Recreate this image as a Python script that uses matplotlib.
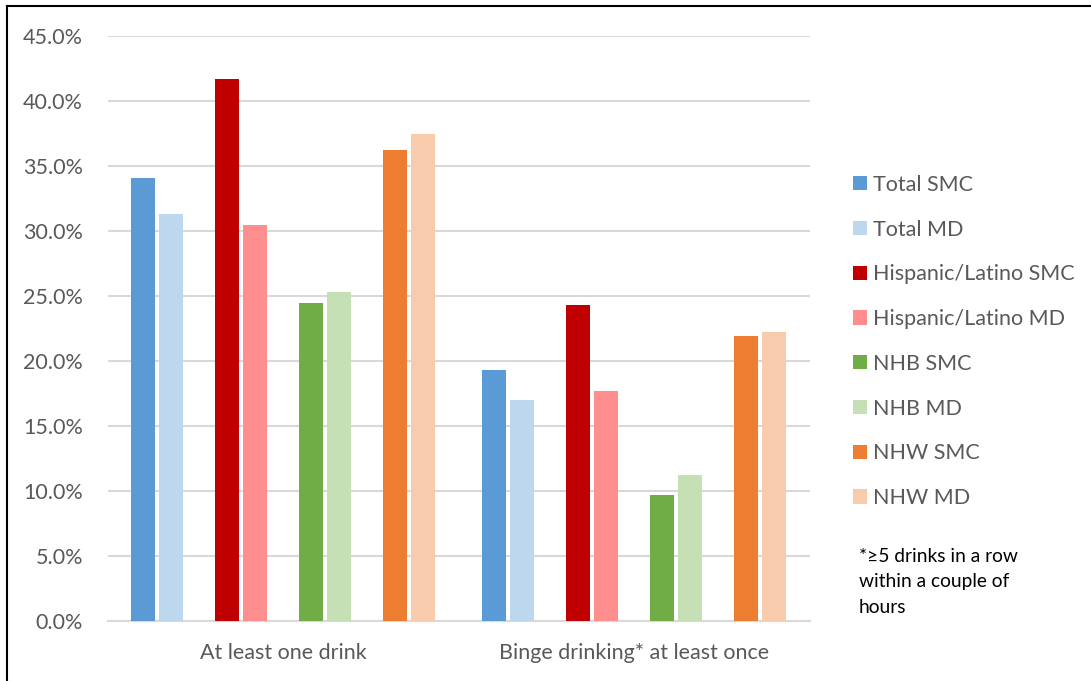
import numpy as np
import matplotlib.pyplot as plt
from matplotlib.patches import Patch
from matplotlib.lines import Line2D

plt.rcParams['font.family'] = ['Lato', 'DejaVu Sans']

categories = ['At least one drink', 'Binge drinking* at least once']
series = ['Total SMC', 'Total MD', 'Hispanic/Latino SMC', 'Hispanic/Latino MD',
          'NHB SMC', 'NHB MD', 'NHW SMC', 'NHW MD']
values = [
    [34.1, 19.3],   # Total SMC
    [31.3, 17.0],   # Total MD
    [41.7, 24.3],   # Hispanic/Latino SMC
    [30.5, 17.7],   # Hispanic/Latino MD
    [24.5, 9.7],    # NHB SMC
    [25.3, 11.2],   # NHB MD
    [36.2, 21.9],   # NHW SMC
    [37.5, 22.2],   # NHW MD
]
colors = ['#5B9BD5', '#BDD7EE', '#C00000', '#FF8F8F',
          '#70AD47', '#C5E0B4', '#ED7D31', '#F8CBAD']
yticks = [0, 5, 10, 15, 20, 25, 30, 35, 40, 45]
note = '*\u22655 drinks in a row\nwithin a couple of\nhours'

W, H = 1091, 681
fig = plt.figure(figsize=(W / 100, H / 100), dpi=100)
ax = fig.add_axes([108 / W, 60 / H, 702 / W, 585 / H])

grey = '#595959'
slot = 28 / 351.3
width = 24 / 351.3
x = np.arange(len(categories))
for i, (name, vals) in enumerate(zip(series, values)):
    s = 3 * (i // 2) + (i % 2)
    ax.bar(x + (s - 5) * slot, vals, width, color=colors[i], label=name, zorder=3)

ax.set_xlim(-0.498, 1.5)
ax.set_ylim(0, 45)
ax.set_yticks(yticks)
ax.set_yticklabels(['%.1f%%' % v for v in yticks])
ax.set_xticks(x)
ax.set_xticklabels(categories)
ax.tick_params(axis='both', length=0, labelsize=15.5, labelcolor=grey)
ax.tick_params(axis='y', pad=18)
ax.tick_params(axis='x', pad=16)
ax.grid(axis='y', color='#D9D9D9', linewidth=1.5, zorder=0)
for sp in ['top', 'right', 'left']:
    ax.spines[sp].set_visible(False)
ax.spines['bottom'].set_color('#D9D9D9')
ax.spines['bottom'].set_linewidth(1.5)

handles = [Patch(facecolor=c) for c in colors]
leg = fig.legend(handles, series, loc='upper left', bbox_to_anchor=(842 / W, 1 - 164 / H),
                 frameon=False, fontsize=15.5, labelspacing=1.15, handlelength=0.65,
                 handleheight=0.65, handletextpad=0.3, borderpad=0)
for t in leg.get_texts():
    t.set_color(grey)

fig.text(859 / W, 1 - 548 / H, note, fontsize=13.8, color='black', va='top', linespacing=1.6)

# frame of the original picture (top and left edges)
fig.add_artist(Line2D([7 / W, 1], [1 - 6 / H, 1 - 6 / H], color='black', linewidth=1.5))
fig.add_artist(Line2D([7 / W, 7 / W], [0, 1 - 6 / H], color='black', linewidth=1.5))

fig.savefig('out.png', dpi=100)
